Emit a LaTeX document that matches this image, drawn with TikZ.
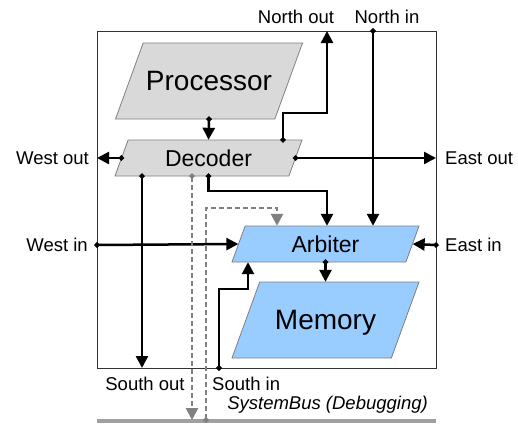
\documentclass[tikz,border=0pt]{standalone}
\usepackage{fontspec}
\setmainfont{Liberation Sans}
\usetikzlibrary{arrows.meta}

\begin{document}
\begin{tikzpicture}[x=1pt,y=-1pt]

% ------------------------------------------------------------------
% Drawing units are pixels, measured from the top left corner.
% Blocks are specified as: \unitblock{name}{x}{y}{height}{fill}{size}{text}
% Every block is a parallelogram 187 wide whose sides lean at 70 degrees;
% the named node is the middle band, so its west/east anchors sit on the sides.
% ------------------------------------------------------------------
\definecolor{cpugray}{HTML}{D9D9D9}
\definecolor{memblue}{HTML}{99CCFF}
\definecolor{edgegray}{HTML}{808080}
\definecolor{busgray}{HTML}{A0A0A0}

\tikzset{
  unitbody/.style={rectangle, inner sep=0pt, text depth=0pt},
  link/.style={line width=2.5pt, shorten <=-2.5pt,
    {Circle[length=5pt]}-{Triangle[length=12pt,width=12pt]}},
  debuglink/.style={link, edgegray, dash pattern=on 5pt off 3pt},
  port/.style={font=\fontsize{18.5}{20}\selectfont, inner sep=0pt},
}

\newcommand{\unitblock}[7]{%
  \pgfmathsetmacro{\blockslant}{0.364*#4}
  \filldraw[fill=#5, draw=edgegray, line width=0.8pt]
    ({#2-93.5},{#3+#4/2}) -- ++({187-\blockslant},0) -- ++(\blockslant,-#4)
    -- ++({\blockslant-187},0) -- cycle;
  \node[unitbody, minimum width={187-\blockslant}, minimum height=#4,
    font=\fontsize{#6}{#6}\selectfont] (#1) at (#2,#3) {#7};
}

\useasboundingbox (0,0) rectangle (518,423);

% Router frame and the debugging bus underneath.
\draw[black!80, line width=1pt] (97,31) rectangle (436,368);
\draw[busgray, line width=4pt] (97,420.5) -- (436,420.5);

% Blocks.
\unitblock{Processor}{209}{81}{76}{cpugray}{28}{Processor}
\unitblock{Decoder}{208.5}{158}{36}{cpugray}{23}{Decoder}
\unitblock{Arbiter}{325.5}{244}{36}{memblue}{23}{Arbiter}
\unitblock{Memory}{325.5}{320}{76}{memblue}{28}{Memory}

% Ports on the frame.
\coordinate (no) at (327,31);
\coordinate (ni) at (373,31);
\coordinate (wo) at (97,158);
\coordinate (eo) at (436,158);
\coordinate (wi) at (97,245);
\coordinate (ei) at (436,245);
\coordinate (so) at (142,368);
\coordinate (si) at (219,368);
\coordinate (bo) at (192,420);
\coordinate (bi) at (206,420);

% Data paths.
\draw[link] (Processor.south) -- (Decoder.north);
\draw[link] (283,0 |- Decoder.north) |- (327,113) -- (no);
\draw[link] (ni) -- (ni |- Arbiter.north);
\draw[link] (Decoder.west) -- (wo);
\draw[link] (Decoder.east) -- (eo);
\draw[link] (so |- Decoder.south) -- (so);
\draw[link] (Decoder.south) |- (327,191) -- (327,0 |- Arbiter.north);
\draw[link] (wi) -- (Arbiter.west);
\draw[link] (ei) -- (Arbiter.east);
\draw[link] (si) |- (248,289) -- (248,0 |- Arbiter.south);
\draw[link] (Arbiter.south) -- (Memory.north);

% Debug taps to and from the bus.
\draw[debuglink] (bo |- Decoder.south) -- (bo);
\draw[debuglink] (bi) |- (277,208) -- (277,0 |- Arbiter.north);

% Port labels.
\node[port] (north out label) at (296,17) {North out};
\node[port] (north in label) at (387,17) {North in};
\node[port, anchor=east] (west out label) at (89,158) {West out};
\node[port, anchor=west] (east out label) at (445,158) {East out};
\node[port, anchor=east] (west in label) at (88,245) {West in};
\node[port, anchor=west] (east in label) at (445,245) {East in};
\node[port] (south out label) at (145,384) {South out};
\node[port, anchor=west] (south in label) at (212,384) {South in};
\node[port, anchor=east, font=\fontsize{18.5}{20}\selectfont\itshape]
  (bus label) at (428,405) {SystemBus (Debugging)};

\end{tikzpicture}
\end{document}
